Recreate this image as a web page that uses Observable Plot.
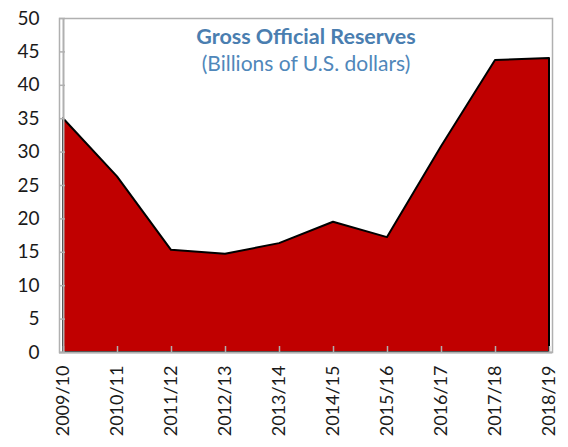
<!DOCTYPE html>
<html>
<head>
<meta charset="utf-8">
<script src="https://cdn.jsdelivr.net/npm/d3@7"></script>
<script src="https://cdn.jsdelivr.net/npm/@observablehq/plot@0.6"></script>
<style>
  html, body { margin: 0; padding: 0; background: #fff; }
  #chart svg { display: block; }
</style>
</head>
<body>
<div id="chart"></div>
<script>
const years = ["2009/10","2010/11","2011/12","2012/13","2013/14","2014/15","2015/16","2016/17","2017/18","2018/19"];
const reserves = [35.0, 26.3, 15.3, 14.7, 16.3, 19.5, 17.2, 30.8, 43.7, 44.0];
const yTicks = [0,5,10,15,20,25,30,35,40,45,50];
const titleText = "Gross Official Reserves";
const subtitleText = "(Billions of U.S. dollars)";

const data = years.map((y, i) => ({year: y, value: reserves[i]}));
const gray = "#b0b0b0";

const chart = Plot.plot({
  width: 568,
  height: 447,
  marginLeft: 59,
  marginRight: 16,
  marginTop: 18,
  marginBottom: 95,
  style: {fontFamily: "Lato, 'Open Sans', sans-serif", fontSize: "19px", color: "#1a1a1a", background: "#fff"},
  x: {type: "point", domain: years, padding: 0, label: null},
  y: {domain: [0, 50], label: null},
  marks: [
    Plot.frame({stroke: gray, strokeWidth: 1.5}),
    Plot.areaY(data, {x: "year", y: "value", fill: "#C00000", stroke: "#000", strokeWidth: 2}),
    Plot.ruleX([years[0]], {stroke: gray, strokeWidth: 2}),
    Plot.ruleY([0], {stroke: gray, strokeWidth: 2}),
    Plot.axisY({ticks: yTicks, tickSize: 0, tickPadding: 20, textAnchor: "end", fontSize: 19, fill: "#1a1a1a"}),
    Plot.axisY({ticks: yTicks, tickSize: -6, tickFormat: () => "", stroke: gray, strokeWidth: 1.5}),
    Plot.axisX({tickSize: -6, tickFormat: () => "", stroke: gray, strokeWidth: 1.5}),
    Plot.axisX({tickSize: 0, tickPadding: 13, tickRotate: -90, fontSize: 18, fill: "#1a1a1a"}),
    Plot.text([titleText], {frameAnchor: "top", lineAnchor: "middle", dy: 19, fontSize: 21.5, fontWeight: "bold", fill: "#4A7EB0"}),
    Plot.text([subtitleText], {frameAnchor: "top", lineAnchor: "middle", dy: 46, fontSize: 21, fill: "#5087BA"})
  ]
});
document.getElementById("chart").appendChild(chart);
</script>
</body>
</html>
